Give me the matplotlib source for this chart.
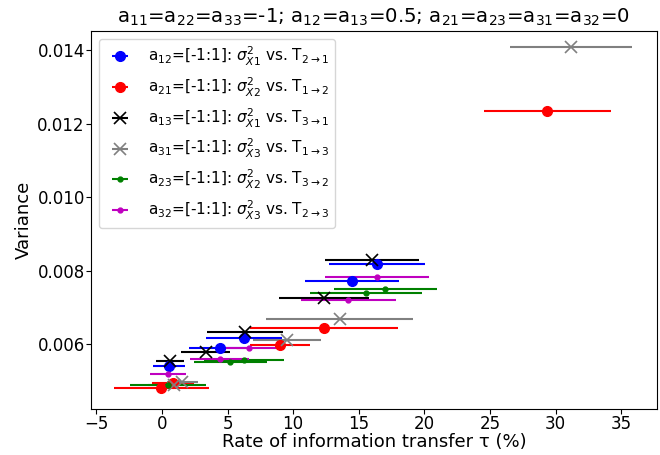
import numpy as np
from matplotlib import pyplot as plt

# transfer rate tau (%) and variance for each coupling sweep
t_a12 = [16.39, 14.46, 6.24, 4.46, 0.54]
v_a12 = [0.008184, 0.007713, 0.00616, 0.005908, 0.005407]
e_a12 = [3.64, 3.58, 2.89, 2.37, 1.2]

t_a21 = [29.36, 12.37, 8.98, 0.84, -0.05]
v_a21 = [0.01235, 0.006431, 0.005978, 0.00494, 0.004805]
e_a21 = [4.83, 5.64, 2.27, 1.6, 3.6]

t_a13 = [15.99, 12.33, 6.36, 3.32, 0.59]
v_a13 = [0.008282, 0.007244, 0.006322, 0.005789, 0.005556]
e_a13 = [3.56, 3.43, 2.89, 1.9, 1.08]

t_a31 = [31.19, 13.54, 9.51, 1.55, 0.9]
v_a31 = [0.014073, 0.006683, 0.006125, 0.004985, 0.00489]
e_a31 = [4.64, 5.61, 2.6, 1.18, 2.0]

t_a23 = [17.01, 15.53, 6.24, 5.22, 0.46]
v_a23 = [0.007515, 0.007388, 0.005583, 0.005509, 0.004894]
e_a23 = [3.93, 4.27, 3.04, 2.79, 2.9]

t_a32 = [16.4, 14.2, 6.6, 4.39, 0.46]
v_a32 = [0.007821, 0.007209, 0.005908, 0.00561, 0.005182]
e_a32 = [3.98, 3.62, 2.4, 2.28, 1.39]

plt.rcParams['font.size'] = 12.5
fig = plt.figure(figsize=(6.6, 4.55), dpi=100)
ax = fig.add_axes([0.138, 0.102, 0.857, 0.83])

ax.errorbar(t_a12, v_a12, xerr=e_a12, fmt='o', color='b', ms=7, lw=1.5,
            label=r'a$_{12}$=[-1:1]: $\sigma^2_{X1}$ vs. T$_{2\rightarrow1}$')
ax.errorbar(t_a21, v_a21, xerr=e_a21, fmt='o', color='r', ms=7, lw=1.5,
            label=r'a$_{21}$=[-1:1]: $\sigma^2_{X2}$ vs. T$_{1\rightarrow2}$')
ax.errorbar(t_a13, v_a13, xerr=e_a13, fmt='x', color='k', ms=9, mew=1.2, lw=1.5,
            label=r'a$_{13}$=[-1:1]: $\sigma^2_{X1}$ vs. T$_{3\rightarrow1}$')
ax.errorbar(t_a31, v_a31, xerr=e_a31, fmt='x', color='grey', ms=9, mew=1.2, lw=1.5,
            label=r'a$_{31}$=[-1:1]: $\sigma^2_{X3}$ vs. T$_{1\rightarrow3}$')
ax.errorbar(t_a23, v_a23, xerr=e_a23, fmt='o', color='g', ms=3.5, lw=1.5,
            label=r'a$_{23}$=[-1:1]: $\sigma^2_{X2}$ vs. T$_{3\rightarrow2}$')
ax.errorbar(t_a32, v_a32, xerr=e_a32, fmt='o', color='m', ms=3.5, lw=1.5,
            label=r'a$_{32}$=[-1:1]: $\sigma^2_{X3}$ vs. T$_{2\rightarrow3}$')

ax.set_xlim(-5.4, 37.7)
ax.set_ylim(0.00425, 0.01452)
ax.set_xticks(np.arange(-5, 40, 5))
ax.set_yticks([0.006, 0.008, 0.010, 0.012, 0.014])
ax.tick_params(labelsize=12, length=3.5, pad=1)
ax.set_xlabel('Rate of information transfer τ (%)', fontsize=13, labelpad=0)
ax.set_ylabel('Variance', fontsize=13, labelpad=3)
ax.set_title(r'a$_{11}$=a$_{22}$=a$_{33}$=-1; a$_{12}$=a$_{13}$=0.5; '
             r'a$_{21}$=a$_{23}$=a$_{31}$=a$_{32}$=0', fontsize=14.2)
ax.legend(loc='upper left', fontsize=11)

fig.savefig('out.png')
